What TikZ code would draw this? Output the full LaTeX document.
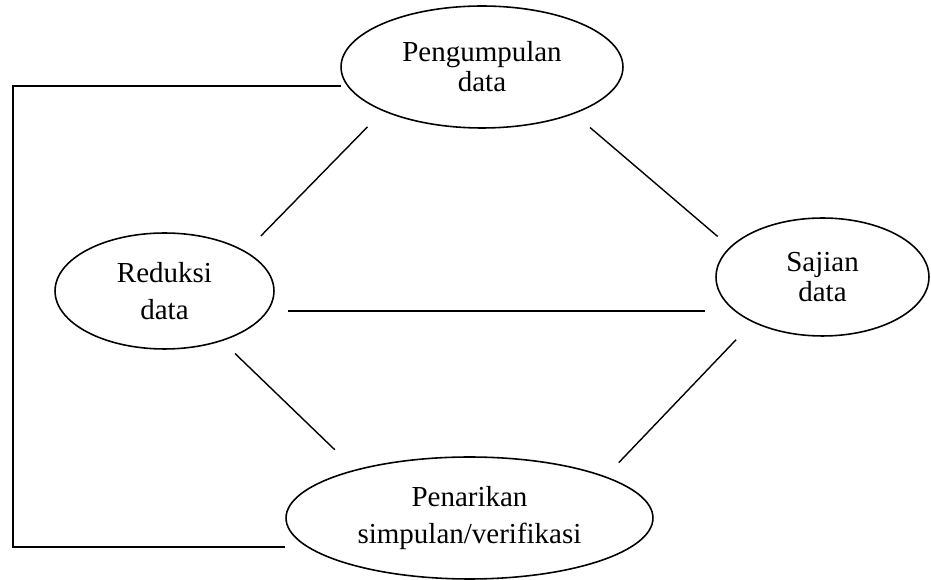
\documentclass[tikz,border=0pt]{standalone}
\usepackage{fontspec}
\setmainfont{Liberation Serif}
\usetikzlibrary{shapes.geometric}

\begin{document}
\begin{tikzpicture}[
  x=0.02cm, y=-0.02cm,
  stage/.style={draw, ellipse, line width=0.9pt, align=center, inner sep=0pt,
                font=\fontsize{16.5}{17}\selectfont},
  link/.style={line width=0.8pt},
  loopline/.style={line width=1.1pt},
]
\useasboundingbox (0,0) rectangle (931,580);
\node[stage, minimum width=5.64cm, minimum height=2.44cm] (kumpul) at (482,67) {Pengumpulan\\data};
\node[stage, minimum width=4.38cm, minimum height=2.32cm] (reduksi) at (164.5,291) {Reduksi\\[4pt]data};
\node[stage, minimum width=4.26cm, minimum height=2.36cm] (sajian) at (822.5,277) {Sajian\\data};
\node[stage, minimum width=7.34cm, minimum height=2.44cm] (simpul) at (469.5,518) {Penarikan\\[4pt]simpulan/verifikasi};
\coordinate (balik) at (13,547);

\draw[link, shorten <=0.44cm, shorten >=0.43cm] (kumpul.204) -- (reduksi.26);
\draw[link, shorten <=0.42cm, shorten >=0.32cm] (kumpul.333) -- (sajian.162);
\draw[link, shorten <=0.4cm, shorten >=0.2cm] (reduksi.-11) -- (reduksi.-11 -| sajian.west);
\draw[link, shorten <=0.36cm, shorten >=0.57cm] (reduksi.-41) -- (simpul.157);
\draw[link, shorten <=0.48cm, shorten >=0.38cm] (sajian.213) -- (simpul.17);
\draw[loopline, shorten <=0.12cm] (kumpul.188) -| (balik) -- (balik -| simpul.west);
\end{tikzpicture}
\end{document}
